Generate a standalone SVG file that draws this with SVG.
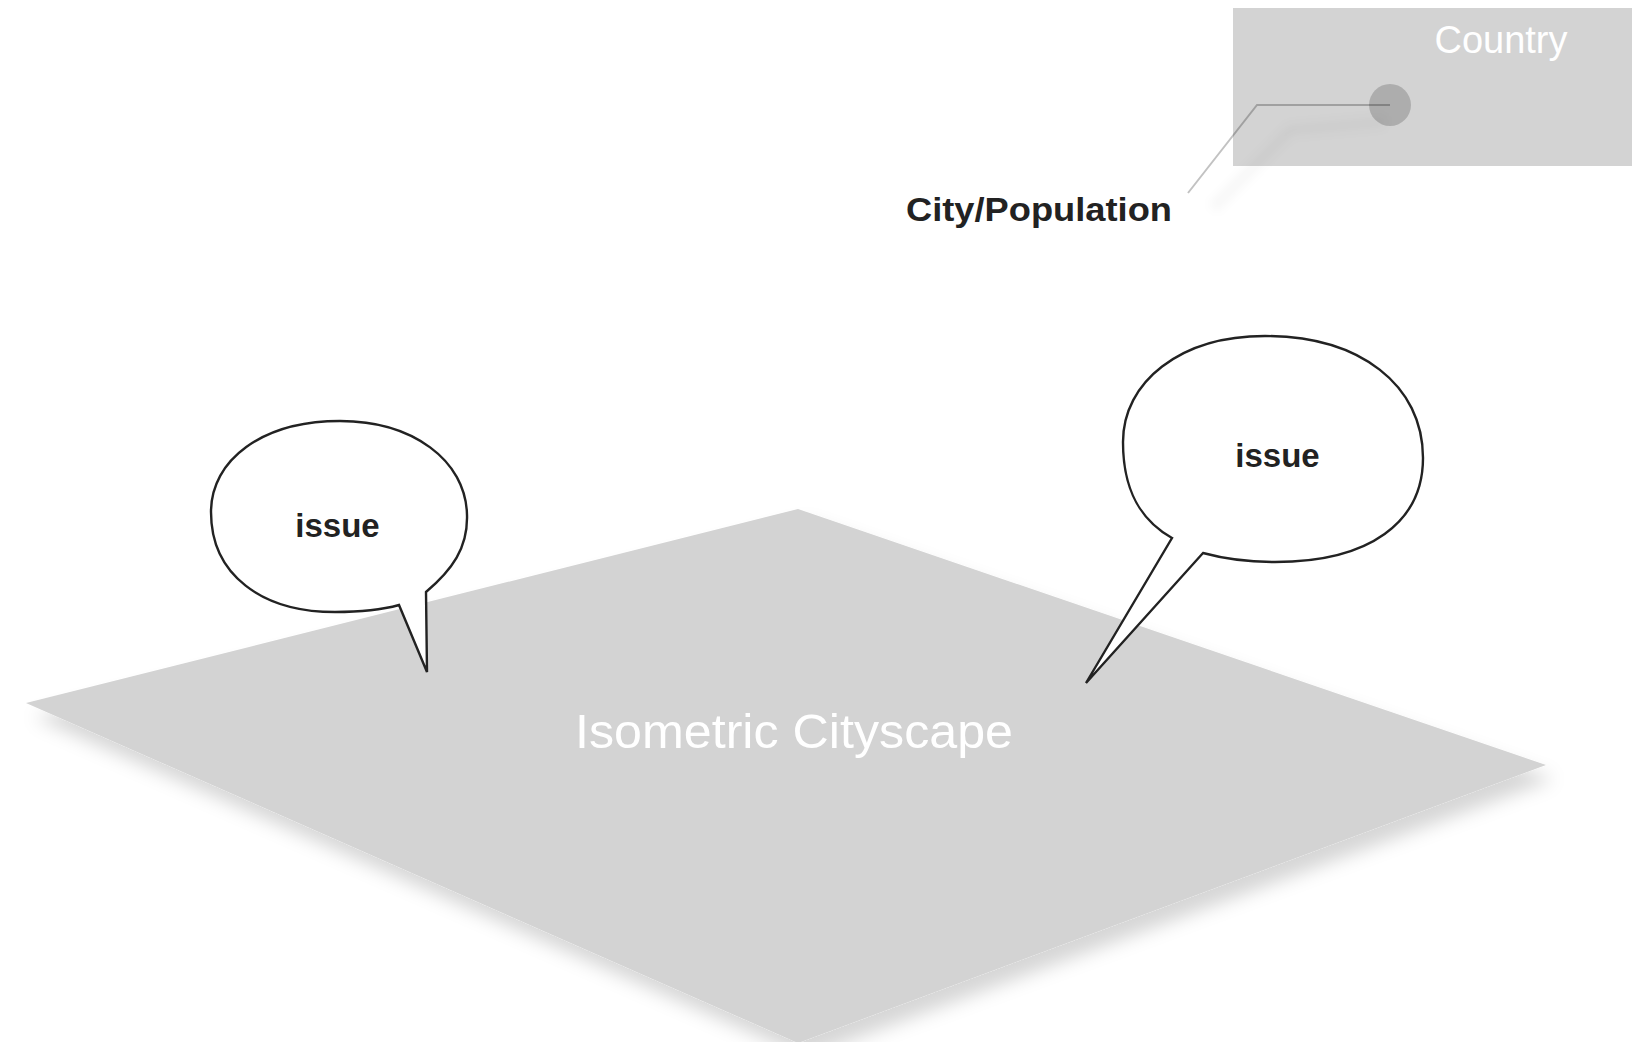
<svg xmlns="http://www.w3.org/2000/svg" width="1646" height="1042" viewBox="0 0 1646 1042">
  <style>
    .plane { fill: #d3d3d3; }
    .white-label { fill: #ffffff; font-family: "Liberation Sans", Arial, Helvetica, sans-serif; text-anchor: middle; }
    .dark-label { fill: #222222; font-family: "Liberation Sans", Arial, Helvetica, sans-serif; font-weight: bold; }
    .bubble { fill: #ffffff; stroke: #222222; stroke-width: 2.4; stroke-linejoin: miter; }
    .leader { fill: none; stroke: #000000; stroke-opacity: 0.24; stroke-width: 2; }
  </style>
  <defs>
    <filter id="planeShadow" x="-10%" y="-10%" width="125%" height="130%">
      <feDropShadow dx="8" dy="14" stdDeviation="9" flood-color="#000000" flood-opacity="0.16"/>
    </filter>
    <filter id="softBlur" x="-20%" y="-20%" width="140%" height="140%">
      <feGaussianBlur stdDeviation="5"/>
    </filter>
  </defs>

  <rect width="1646" height="1042" fill="#ffffff"/>

  <g id="cityscape">
    <polygon class="plane" filter="url(#planeShadow)" points="26,703 798,509 1546,765 798,1043"/>
    <text class="white-label" x="794" y="748" font-size="49" textLength="438" lengthAdjust="spacingAndGlyphs">Isometric Cityscape</text>
  </g>

  <g id="country">
    <rect class="plane" x="1233" y="8" width="399" height="158"/>
    <text class="white-label" x="1501" y="53" font-size="38">Country</text>
  </g>

  <g id="connectors">
    <path d="M1213,208 L1290,130 L1385,122" fill="none" stroke="#000000" stroke-opacity="0.03" stroke-width="12" filter="url(#softBlur)"/>
    <path class="leader" d="M1188,193 L1257,105 L1390,105"/>
  </g>

  <g id="city-dot">
    <circle cx="1390" cy="105" r="21" fill="#000000" fill-opacity="0.18"/>
  </g>

  <g id="city-label">
    <text class="dark-label" x="906" y="221" font-size="34" textLength="266" lengthAdjust="spacingAndGlyphs">City/Population</text>
  </g>

  <g id="issue-left">
    <path class="bubble" d="M426,592 C452,570 468,548 467,515 C466,460 412,421 340,421 C262,421 211,460 211,512 C211,575 262,612 335,612 C360,612 381,610 399,605 L427,672 Z"/>
    <text class="dark-label" x="337.5" y="537" font-size="33" text-anchor="middle">issue</text>
  </g>

  <g id="issue-right">
    <path class="bubble" d="M1203,553 C1225,559 1248,562 1275,562 C1370,562 1423,522 1423,458 C1423,385 1360,336 1265,336 C1180,336 1123,382 1123,442 C1123,490 1140,520 1172,538 L1086,683 Z"/>
    <text class="dark-label" x="1277.5" y="467" font-size="33" text-anchor="middle">issue</text>
  </g>
</svg>
